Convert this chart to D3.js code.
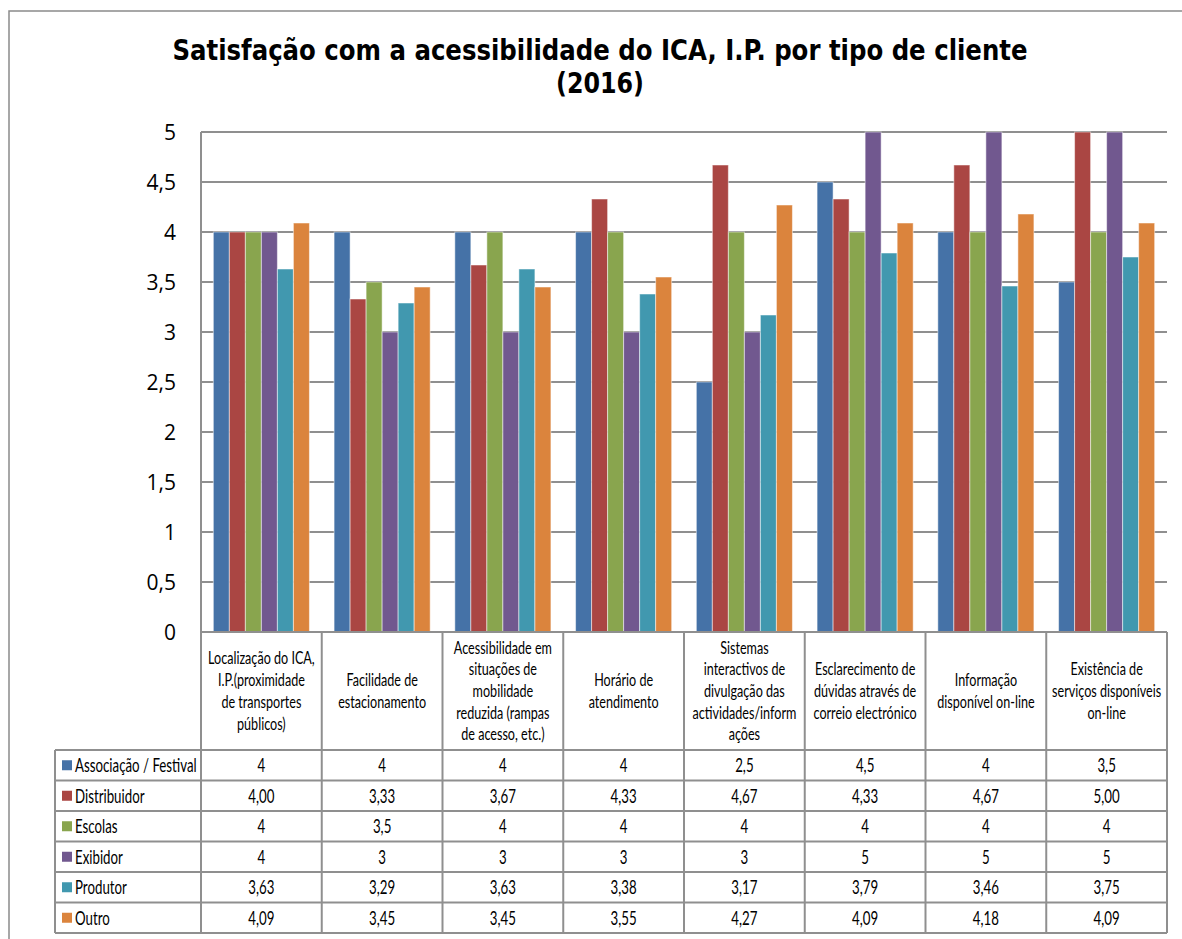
<!DOCTYPE html>
<html>
<head>
<meta charset="utf-8">
<script src="https://cdn.jsdelivr.net/npm/d3@7"></script>
<style>
  body { margin: 0; background: #fff; }
  svg { display: block; }
</style>
</head>
<body>
<div id="chart"></div>
<script>
// category labels (as broken in the original table header)
const categories = [
    ["Localização do ICA,", "I.P.(proximidade", "de transportes", "públicos)"],
    ["Facilidade de", "estacionamento"],
    ["Acessibilidade em", "situações de", "mobilidade", "reduzida (rampas", "de acesso, etc.)"],
    ["Horário de", "atendimento"],
    ["Sistemas", "interactivos de", "divulgação das", "actividades/inform", "ações"],
    ["Esclarecimento de", "dúvidas através de", "correio electrónico"],
    ["Informação", "disponível on-line"],
    ["Existência de", "serviços disponíveis", "on-line"]
];

const seriesNames = ["Associação / Festival", "Distribuidor", "Escolas", "Exibidor", "Produtor", "Outro"];
const seriesColors = ["#4572A7", "#AA4643", "#89A54E", "#71588F", "#4198AF", "#DB843D"];

const associacao   = [4, 4, 4, 4, 2.5, 4.5, 4, 3.5];
const distribuidor = [4.00, 3.33, 3.67, 4.33, 4.67, 4.33, 4.67, 5.00];
const escolas      = [4, 3.5, 4, 4, 4, 4, 4, 4];
const exibidor     = [4, 3, 3, 3, 3, 5, 5, 5];
const produtor     = [3.63, 3.29, 3.63, 3.38, 3.17, 3.79, 3.46, 3.75];
const outro        = [4.09, 3.45, 3.45, 3.55, 4.27, 4.09, 4.18, 4.09];

const seriesValues = [associacao, distribuidor, escolas, exibidor, produtor, outro];
const seriesDecimals = [null, 2, null, null, 2, 2];

const yTicks = [0, 0.5, 1, 1.5, 2, 2.5, 3, 3.5, 4, 4.5, 5];

const W = 1182, H = 939;
const plot = {left: 201, right: 1167, top: 132, bottom: 632};
const headerBottom = 750;
const rowH = 30.5;
const legendLeft = 55;
const gridColor = "#8f8f8f";

const svg = d3.select("#chart").append("svg")
    .attr("width", W)
    .attr("height", H);

// outer chart frame
svg.append("rect")
    .attr("x", 9).attr("y", 11)
    .attr("width", W).attr("height", H)
    .attr("fill", "none")
    .attr("stroke", "#8a8a8a")
    .attr("stroke-width", 1.5);

// title
const title = svg.append("text")
    .attr("text-anchor", "middle")
    .attr("font-family", "'DejaVu Sans Condensed', 'DejaVu Sans', sans-serif")
    .attr("font-weight", "bold")
    .attr("font-size", 29)
    .attr("fill", "#000");
title.append("tspan").attr("x", 600).attr("y", 60)
    .attr("textLength", 855).attr("lengthAdjust", "spacingAndGlyphs")
    .text("Satisfação com a acessibilidade do ICA, I.P. por tipo de cliente");
title.append("tspan").attr("x", 600).attr("y", 93)
    .attr("textLength", 88).attr("lengthAdjust", "spacingAndGlyphs")
    .text("(2016)");

const x = d3.scaleBand()
    .domain(d3.range(categories.length))
    .range([plot.left, plot.right]);

const xs = d3.scaleBand()
    .domain(d3.range(seriesNames.length))
    .range([0, x.bandwidth()])
    .paddingOuter(0.77);

const y = d3.scaleLinear().domain([0, 5]).range([plot.bottom, plot.top]);

// gridlines
svg.append("g")
    .selectAll("line")
    .data(yTicks.filter(d => d > 0))
    .join("line")
    .attr("x1", plot.left).attr("x2", plot.right)
    .attr("y1", d => y(d)).attr("y2", d => y(d))
    .attr("stroke", gridColor)
    .attr("stroke-width", 2);

// y axis labels
const fmt = v => String(v).replace(".", ",");
svg.append("g")
    .selectAll("text")
    .data(yTicks)
    .join("text")
    .attr("x", 176)
    .attr("y", d => y(d) + 8)
    .attr("text-anchor", "end")
    .attr("font-family", "'Open Sans', sans-serif")
    .attr("font-size", 21)
    .attr("fill", "#000")
    .text(fmt);

// bars
const groups = svg.append("g")
    .selectAll("g")
    .data(seriesValues)
    .join("g")
    .attr("fill", (d, i) => seriesColors[i]);

groups.each(function(vals, si) {
    d3.select(this).selectAll("rect")
        .data(vals)
        .join("rect")
        .attr("x", (v, ci) => x(ci) + xs(si))
        .attr("y", v => y(v))
        .attr("width", xs.bandwidth())
        .attr("height", v => y(0) - y(v))
        .attr("stroke", "#ffffff")
        .attr("stroke-opacity", 0.5)
        .attr("stroke-width", 1);
});

// data table
const table = svg.append("g");
const narrow = (sel, sx) => sel
    .attr("font-family", "Lato, 'Open Sans', sans-serif")
    .attr("fill", "#000");

// header labels
categories.forEach((lines, ci) => {
    const cx = x(ci) + x.bandwidth() / 2;
    const mid = (plot.bottom + headerBottom) / 2;
    const lh = 21.7;
    lines.forEach((ln, li) => {
        const cy = mid + (li - (lines.length - 1) / 2) * lh + 6;
        table.append("text")
            .attr("transform", `translate(${cx},${cy}) scale(0.7,1)`)
            .attr("text-anchor", "middle")
            .attr("font-size", 18)
            .call(narrow)
            .text(ln);
    });
});

// rows
seriesNames.forEach((name, si) => {
    const top = headerBottom + si * rowH;
    const cy = top + rowH / 2 + 7;
    table.append("rect")
        .attr("x", 62).attr("y", top + rowH / 2 - 5)
        .attr("width", 10).attr("height", 10)
        .attr("fill", seriesColors[si]);
    table.append("text")
        .attr("transform", `translate(75,${cy}) scale(0.7,1)`)
        .attr("font-size", 19)
        .call(narrow)
        .text(name);
    seriesValues[si].forEach((v, ci) => {
        const dec = seriesDecimals[si];
        const s = (dec === null ? String(v) : v.toFixed(dec)).replace(".", ",");
        table.append("text")
            .attr("transform", `translate(${x(ci) + x.bandwidth() / 2},${cy}) scale(0.7,1)`)
            .attr("text-anchor", "middle")
            .attr("font-size", 19)
            .call(narrow)
            .text(s);
    });
});

// table grid
const tableBottom = headerBottom + seriesNames.length * rowH;
const hLines = [plot.bottom].concat(d3.range(seriesNames.length + 1).map(i => headerBottom + i * rowH));
table.selectAll("line.h")
    .data(hLines)
    .join("line")
    .attr("class", "h")
    .attr("x1", (d, i) => i === 0 ? plot.left : legendLeft)
    .attr("x2", plot.right)
    .attr("y1", d => d).attr("y2", d => d)
    .attr("stroke", gridColor)
    .attr("stroke-width", 2);

const vLines = d3.range(categories.length + 1).map(i => i < categories.length ? x(i) : plot.right);
table.selectAll("line.v")
    .data(vLines)
    .join("line")
    .attr("class", "v")
    .attr("x1", d => d).attr("x2", d => d)
    .attr("y1", (d, i) => i === 0 ? plot.top : plot.bottom)
    .attr("y2", tableBottom)
    .attr("stroke", gridColor)
    .attr("stroke-width", 2);

table.append("line")
    .attr("x1", legendLeft).attr("x2", legendLeft)
    .attr("y1", headerBottom).attr("y2", tableBottom)
    .attr("stroke", gridColor)
    .attr("stroke-width", 2);
</script>
</body>
</html>
